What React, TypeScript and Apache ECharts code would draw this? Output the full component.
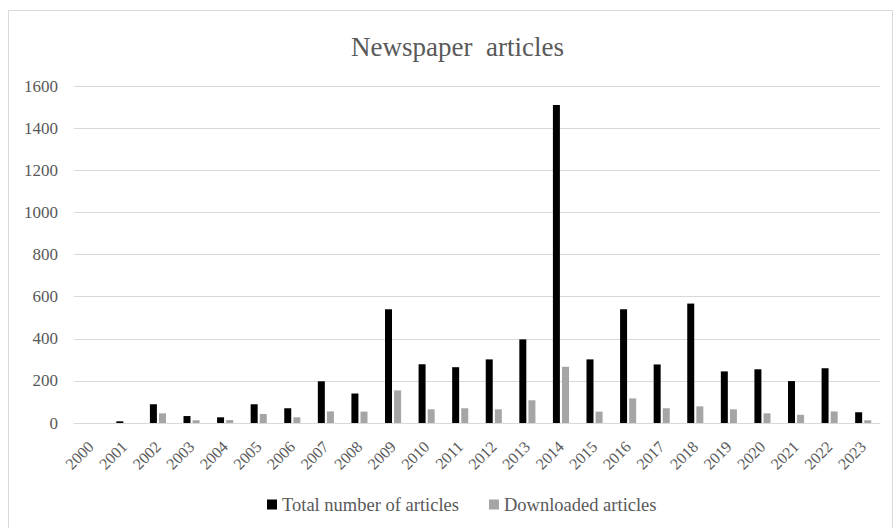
import React, { useEffect, useRef } from "react";
import * as echarts from "echarts";

const years = ["2000","2001","2002","2003","2004","2005","2006","2007","2008","2009","2010","2011","2012","2013","2014","2015","2016","2017","2018","2019","2020","2021","2022","2023"];
const totalArticles = [0, 8, 89, 33, 27, 89, 70, 198, 140, 540, 279, 265, 302, 397, 1510, 302, 540, 278, 567, 245, 255, 199, 260, 51];
const downloadedArticles = [0, 0, 46, 13, 14, 43, 27, 55, 54, 155, 65, 70, 65, 108, 267, 54, 117, 70, 79, 65, 46, 39, 55, 13];

const FONT = "'Liberation Serif', 'DejaVu Serif', serif";

export default function App() {
  const ref = useRef<HTMLDivElement>(null);
  useEffect(() => {
    if (!ref.current) return;
    const chart = echarts.init(ref.current, null, { renderer: "svg" });
    chart.setOption({
      animation: false,
      backgroundColor: "#ffffff",
      graphic: [
        {
          type: "rect",
          shape: { x: 8.5, y: 10.5, width: 884, height: 530 },
          style: { fill: "none", stroke: "#d9d9d9", lineWidth: 1 },
          silent: true,
        },
      ],
      title: {
        text: "Newspaper  articles",
        left: 346,
        top: 28,
        textStyle: { fontFamily: FONT, fontSize: 27, fontWeight: "normal", color: "#595959" },
      },
      legend: {
        bottom: 9,
        left: 262,
        itemWidth: 10,
        itemHeight: 10,
        itemGap: 30,
        icon: "rect",
        textStyle: { fontFamily: FONT, fontSize: 18.5, color: "#595959" },
        data: ["Total number of articles", "Downloaded articles"],
      },
      grid: { left: 74, right: 15, top: 86, bottom: 105, containLabel: false },
      xAxis: {
        type: "category",
        data: years,
        axisLine: { lineStyle: { color: "#d9d9d9", width: 1 } },
        axisTick: { show: false },
        axisLabel: { rotate: 45, fontFamily: FONT, fontSize: 16, color: "#595959", margin: 21, interval: 0 },
      },
      yAxis: {
        type: "value",
        min: 0,
        max: 1600,
        interval: 200,
        axisLine: { show: false },
        axisTick: { show: false },
        splitLine: { lineStyle: { color: "#d9d9d9", width: 1 } },
        axisLabel: {
          fontFamily: FONT,
          fontSize: 17,
          color: "#595959",
          margin: 16,
          formatter: (v: number) => String(v),
        },
      },
      series: [
        {
          name: "Total number of articles",
          type: "bar",
          data: totalArticles,
          barWidth: 7,
          barGap: "30%",
          itemStyle: { color: "#000000" },
        },
        {
          name: "Downloaded articles",
          type: "bar",
          data: downloadedArticles,
          barWidth: 7,
          itemStyle: { color: "#a5a5a5" },
        },
      ],
    });
    return () => chart.dispose();
  }, []);
  return (
    <div
      ref={ref}
      style={{ position: "fixed", left: 0, top: 0, width: 895, height: 528 }}
    />
  );
}
